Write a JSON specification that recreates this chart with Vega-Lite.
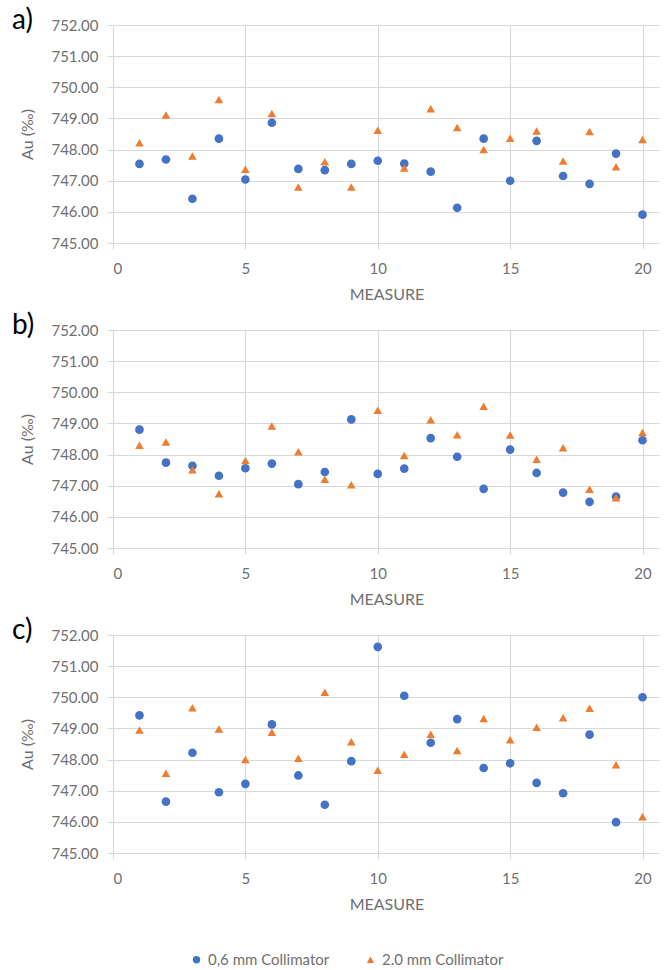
{
"$schema": "https://vega.github.io/schema/vega-lite/v6.json",
"padding": {"left": 12, "top": 7, "right": 0, "bottom": 0},
"background": "white",
"config": {
  "font": "Lato",
  "view": {"stroke": null},
  "concat": {"spacing": 10},
  "axis": {"labelColor": "#707070", "titleColor": "#707070", "labelFontSize": 15, "titleFontSize": 16, "titleFontWeight": "normal", "gridColor": "#d9d9d9", "gridWidth": 1.2, "domain": false, "ticks": true, "tickSize": 6, "tickColor": "#d9d9d9", "tickWidth": 1.2, "labelFont": "Lato", "titleFont": "Lato"},
  "title": {"font": "Lato", "fontSize": 28, "fontWeight": "normal", "color": "#000000"}
},
"datasets": {"d": [
{"p":"a","m":1,"s":"0,6 mm Collimator","v":747.54},{"p":"a","m":2,"s":"0,6 mm Collimator","v":747.68},{"p":"a","m":3,"s":"0,6 mm Collimator","v":746.42},{"p":"a","m":4,"s":"0,6 mm Collimator","v":748.35},{"p":"a","m":5,"s":"0,6 mm Collimator","v":747.04},{"p":"a","m":6,"s":"0,6 mm Collimator","v":748.86},{"p":"a","m":7,"s":"0,6 mm Collimator","v":747.38},{"p":"a","m":8,"s":"0,6 mm Collimator","v":747.34},{"p":"a","m":9,"s":"0,6 mm Collimator","v":747.54},{"p":"a","m":10,"s":"0,6 mm Collimator","v":747.64},{"p":"a","m":11,"s":"0,6 mm Collimator","v":747.55},{"p":"a","m":12,"s":"0,6 mm Collimator","v":747.29},{"p":"a","m":13,"s":"0,6 mm Collimator","v":746.13},{"p":"a","m":14,"s":"0,6 mm Collimator","v":748.35},{"p":"a","m":15,"s":"0,6 mm Collimator","v":747.00},{"p":"a","m":16,"s":"0,6 mm Collimator","v":748.28},{"p":"a","m":17,"s":"0,6 mm Collimator","v":747.15},{"p":"a","m":18,"s":"0,6 mm Collimator","v":746.90},{"p":"a","m":19,"s":"0,6 mm Collimator","v":747.87},{"p":"a","m":20,"s":"0,6 mm Collimator","v":745.91},
{"p":"a","m":1,"s":"2.0 mm Collimator","v":748.22},{"p":"a","m":2,"s":"2.0 mm Collimator","v":749.11},{"p":"a","m":3,"s":"2.0 mm Collimator","v":747.79},{"p":"a","m":4,"s":"2.0 mm Collimator","v":749.61},{"p":"a","m":5,"s":"2.0 mm Collimator","v":747.37},{"p":"a","m":6,"s":"2.0 mm Collimator","v":749.16},{"p":"a","m":7,"s":"2.0 mm Collimator","v":746.80},{"p":"a","m":8,"s":"2.0 mm Collimator","v":747.61},{"p":"a","m":9,"s":"2.0 mm Collimator","v":746.80},{"p":"a","m":10,"s":"2.0 mm Collimator","v":748.62},{"p":"a","m":11,"s":"2.0 mm Collimator","v":747.41},{"p":"a","m":12,"s":"2.0 mm Collimator","v":749.31},{"p":"a","m":13,"s":"2.0 mm Collimator","v":748.71},{"p":"a","m":14,"s":"2.0 mm Collimator","v":748.00},{"p":"a","m":15,"s":"2.0 mm Collimator","v":748.36},{"p":"a","m":16,"s":"2.0 mm Collimator","v":748.60},{"p":"a","m":17,"s":"2.0 mm Collimator","v":747.63},{"p":"a","m":18,"s":"2.0 mm Collimator","v":748.58},{"p":"a","m":19,"s":"2.0 mm Collimator","v":747.45},{"p":"a","m":20,"s":"2.0 mm Collimator","v":748.32},
{"p":"b","m":1,"s":"0,6 mm Collimator","v":748.80},{"p":"b","m":2,"s":"0,6 mm Collimator","v":747.74},{"p":"b","m":3,"s":"0,6 mm Collimator","v":747.64},{"p":"b","m":4,"s":"0,6 mm Collimator","v":747.32},{"p":"b","m":5,"s":"0,6 mm Collimator","v":747.56},{"p":"b","m":6,"s":"0,6 mm Collimator","v":747.71},{"p":"b","m":7,"s":"0,6 mm Collimator","v":747.05},{"p":"b","m":8,"s":"0,6 mm Collimator","v":747.44},{"p":"b","m":9,"s":"0,6 mm Collimator","v":749.13},{"p":"b","m":10,"s":"0,6 mm Collimator","v":747.38},{"p":"b","m":11,"s":"0,6 mm Collimator","v":747.55},{"p":"b","m":12,"s":"0,6 mm Collimator","v":748.53},{"p":"b","m":13,"s":"0,6 mm Collimator","v":747.93},{"p":"b","m":14,"s":"0,6 mm Collimator","v":746.90},{"p":"b","m":15,"s":"0,6 mm Collimator","v":748.16},{"p":"b","m":16,"s":"0,6 mm Collimator","v":747.41},{"p":"b","m":17,"s":"0,6 mm Collimator","v":746.78},{"p":"b","m":18,"s":"0,6 mm Collimator","v":746.48},{"p":"b","m":19,"s":"0,6 mm Collimator","v":746.65},{"p":"b","m":20,"s":"0,6 mm Collimator","v":748.46},
{"p":"b","m":1,"s":"2.0 mm Collimator","v":748.30},{"p":"b","m":2,"s":"2.0 mm Collimator","v":748.40},{"p":"b","m":3,"s":"2.0 mm Collimator","v":747.51},{"p":"b","m":4,"s":"2.0 mm Collimator","v":746.74},{"p":"b","m":5,"s":"2.0 mm Collimator","v":747.81},{"p":"b","m":6,"s":"2.0 mm Collimator","v":748.92},{"p":"b","m":7,"s":"2.0 mm Collimator","v":748.09},{"p":"b","m":8,"s":"2.0 mm Collimator","v":747.21},{"p":"b","m":9,"s":"2.0 mm Collimator","v":747.03},{"p":"b","m":10,"s":"2.0 mm Collimator","v":749.42},{"p":"b","m":11,"s":"2.0 mm Collimator","v":747.97},{"p":"b","m":12,"s":"2.0 mm Collimator","v":749.12},{"p":"b","m":13,"s":"2.0 mm Collimator","v":748.64},{"p":"b","m":14,"s":"2.0 mm Collimator","v":749.55},{"p":"b","m":15,"s":"2.0 mm Collimator","v":748.63},{"p":"b","m":16,"s":"2.0 mm Collimator","v":747.85},{"p":"b","m":17,"s":"2.0 mm Collimator","v":748.22},{"p":"b","m":18,"s":"2.0 mm Collimator","v":746.89},{"p":"b","m":19,"s":"2.0 mm Collimator","v":746.61},{"p":"b","m":20,"s":"2.0 mm Collimator","v":748.71},
{"p":"c","m":1,"s":"0,6 mm Collimator","v":749.42},{"p":"c","m":2,"s":"0,6 mm Collimator","v":746.65},{"p":"c","m":3,"s":"0,6 mm Collimator","v":748.22},{"p":"c","m":4,"s":"0,6 mm Collimator","v":746.95},{"p":"c","m":5,"s":"0,6 mm Collimator","v":747.22},{"p":"c","m":6,"s":"0,6 mm Collimator","v":749.13},{"p":"c","m":7,"s":"0,6 mm Collimator","v":747.49},{"p":"c","m":8,"s":"0,6 mm Collimator","v":746.55},{"p":"c","m":9,"s":"0,6 mm Collimator","v":747.95},{"p":"c","m":10,"s":"0,6 mm Collimator","v":751.62},{"p":"c","m":11,"s":"0,6 mm Collimator","v":750.05},{"p":"c","m":12,"s":"0,6 mm Collimator","v":748.54},{"p":"c","m":13,"s":"0,6 mm Collimator","v":749.30},{"p":"c","m":14,"s":"0,6 mm Collimator","v":747.73},{"p":"c","m":15,"s":"0,6 mm Collimator","v":747.88},{"p":"c","m":16,"s":"0,6 mm Collimator","v":747.25},{"p":"c","m":17,"s":"0,6 mm Collimator","v":746.92},{"p":"c","m":18,"s":"0,6 mm Collimator","v":748.80},{"p":"c","m":19,"s":"0,6 mm Collimator","v":745.99},{"p":"c","m":20,"s":"0,6 mm Collimator","v":750.00},
{"p":"c","m":1,"s":"2.0 mm Collimator","v":748.95},{"p":"c","m":2,"s":"2.0 mm Collimator","v":747.56},{"p":"c","m":3,"s":"2.0 mm Collimator","v":749.66},{"p":"c","m":4,"s":"2.0 mm Collimator","v":748.98},{"p":"c","m":5,"s":"2.0 mm Collimator","v":748.00},{"p":"c","m":6,"s":"2.0 mm Collimator","v":748.88},{"p":"c","m":7,"s":"2.0 mm Collimator","v":748.04},{"p":"c","m":8,"s":"2.0 mm Collimator","v":750.16},{"p":"c","m":9,"s":"2.0 mm Collimator","v":748.57},{"p":"c","m":10,"s":"2.0 mm Collimator","v":747.66},{"p":"c","m":11,"s":"2.0 mm Collimator","v":748.17},{"p":"c","m":12,"s":"2.0 mm Collimator","v":748.81},{"p":"c","m":13,"s":"2.0 mm Collimator","v":748.29},{"p":"c","m":14,"s":"2.0 mm Collimator","v":749.32},{"p":"c","m":15,"s":"2.0 mm Collimator","v":748.64},{"p":"c","m":16,"s":"2.0 mm Collimator","v":749.04},{"p":"c","m":17,"s":"2.0 mm Collimator","v":749.34},{"p":"c","m":18,"s":"2.0 mm Collimator","v":749.65},{"p":"c","m":19,"s":"2.0 mm Collimator","v":747.83},{"p":"c","m":20,"s":"2.0 mm Collimator","v":746.16}
]},
"vconcat": [
 {"title": {"text": "a)", "anchor": "start", "frame": "group", "offset": 0, "dx": -101, "dy": 17},
  "width": 547, "height": 218, "data": {"name": "d"}, "transform": [{"filter": "datum.p == 'a'"}],
  "mark": {"type": "point", "filled": true, "opacity": 1, "size": 75},
  "encoding": {
   "x": {"field": "m", "type": "quantitative", "scale": {"domain": [0, 20.66], "nice": false}, "axis": {"values": [0,5,10,15,20], "title": "MEASURE", "labelPadding": 12, "titlePadding": 10}},
   "y": {"field": "v", "type": "quantitative", "scale": {"domain": [745, 752], "nice": false, "zero": false}, "axis": {"values": [745,746,747,748,749,750,751,752], "format": ".2f", "title": "Au (‰)", "labelPadding": 9, "titlePadding": 15}},
   "color": {"field": "s", "type": "nominal", "scale": {"domain": ["0,6 mm Collimator", "2.0 mm Collimator"], "range": ["#4472C4", "#ED7D31"]}, "legend": {"title": null, "orient": "none", "direction": "horizontal", "legendX": 76, "legendY": 927, "labelFontSize": 15, "labelColor": "#707070", "symbolSize": 55, "columnPadding": 33, "labelOffset": 4}},
   "shape": {"field": "s", "type": "nominal", "scale": {"domain": ["0,6 mm Collimator", "2.0 mm Collimator"], "range": ["circle", "triangle-up"]}, "legend": {"title": null, "orient": "none", "direction": "horizontal", "legendX": 76, "legendY": 927, "labelFontSize": 15, "labelColor": "#707070", "symbolSize": 55, "columnPadding": 33, "labelOffset": 4}}
  }},
 {"title": {"text": "b)", "anchor": "start", "frame": "group", "offset": 0, "dx": -101, "dy": 17},
  "width": 547, "height": 218, "data": {"name": "d"}, "transform": [{"filter": "datum.p == 'b'"}],
  "mark": {"type": "point", "filled": true, "opacity": 1, "size": 75},
  "encoding": {
   "x": {"field": "m", "type": "quantitative", "scale": {"domain": [0, 20.66], "nice": false}, "axis": {"values": [0,5,10,15,20], "title": "MEASURE", "labelPadding": 12, "titlePadding": 10}},
   "y": {"field": "v", "type": "quantitative", "scale": {"domain": [745, 752], "nice": false, "zero": false}, "axis": {"values": [745,746,747,748,749,750,751,752], "format": ".2f", "title": "Au (‰)", "labelPadding": 9, "titlePadding": 15}},
   "color": {"field": "s", "type": "nominal"},
   "shape": {"field": "s", "type": "nominal"}
  }},
 {"title": {"text": "c)", "anchor": "start", "frame": "group", "offset": 0, "dx": -101, "dy": 17},
  "width": 547, "height": 218, "data": {"name": "d"}, "transform": [{"filter": "datum.p == 'c'"}],
  "mark": {"type": "point", "filled": true, "opacity": 1, "size": 75},
  "encoding": {
   "x": {"field": "m", "type": "quantitative", "scale": {"domain": [0, 20.66], "nice": false}, "axis": {"values": [0,5,10,15,20], "title": "MEASURE", "labelPadding": 12, "titlePadding": 10}},
   "y": {"field": "v", "type": "quantitative", "scale": {"domain": [745, 752], "nice": false, "zero": false}, "axis": {"values": [745,746,747,748,749,750,751,752], "format": ".2f", "title": "Au (‰)", "labelPadding": 9, "titlePadding": 15}},
   "color": {"field": "s", "type": "nominal"},
   "shape": {"field": "s", "type": "nominal"}
  }}
]
}
